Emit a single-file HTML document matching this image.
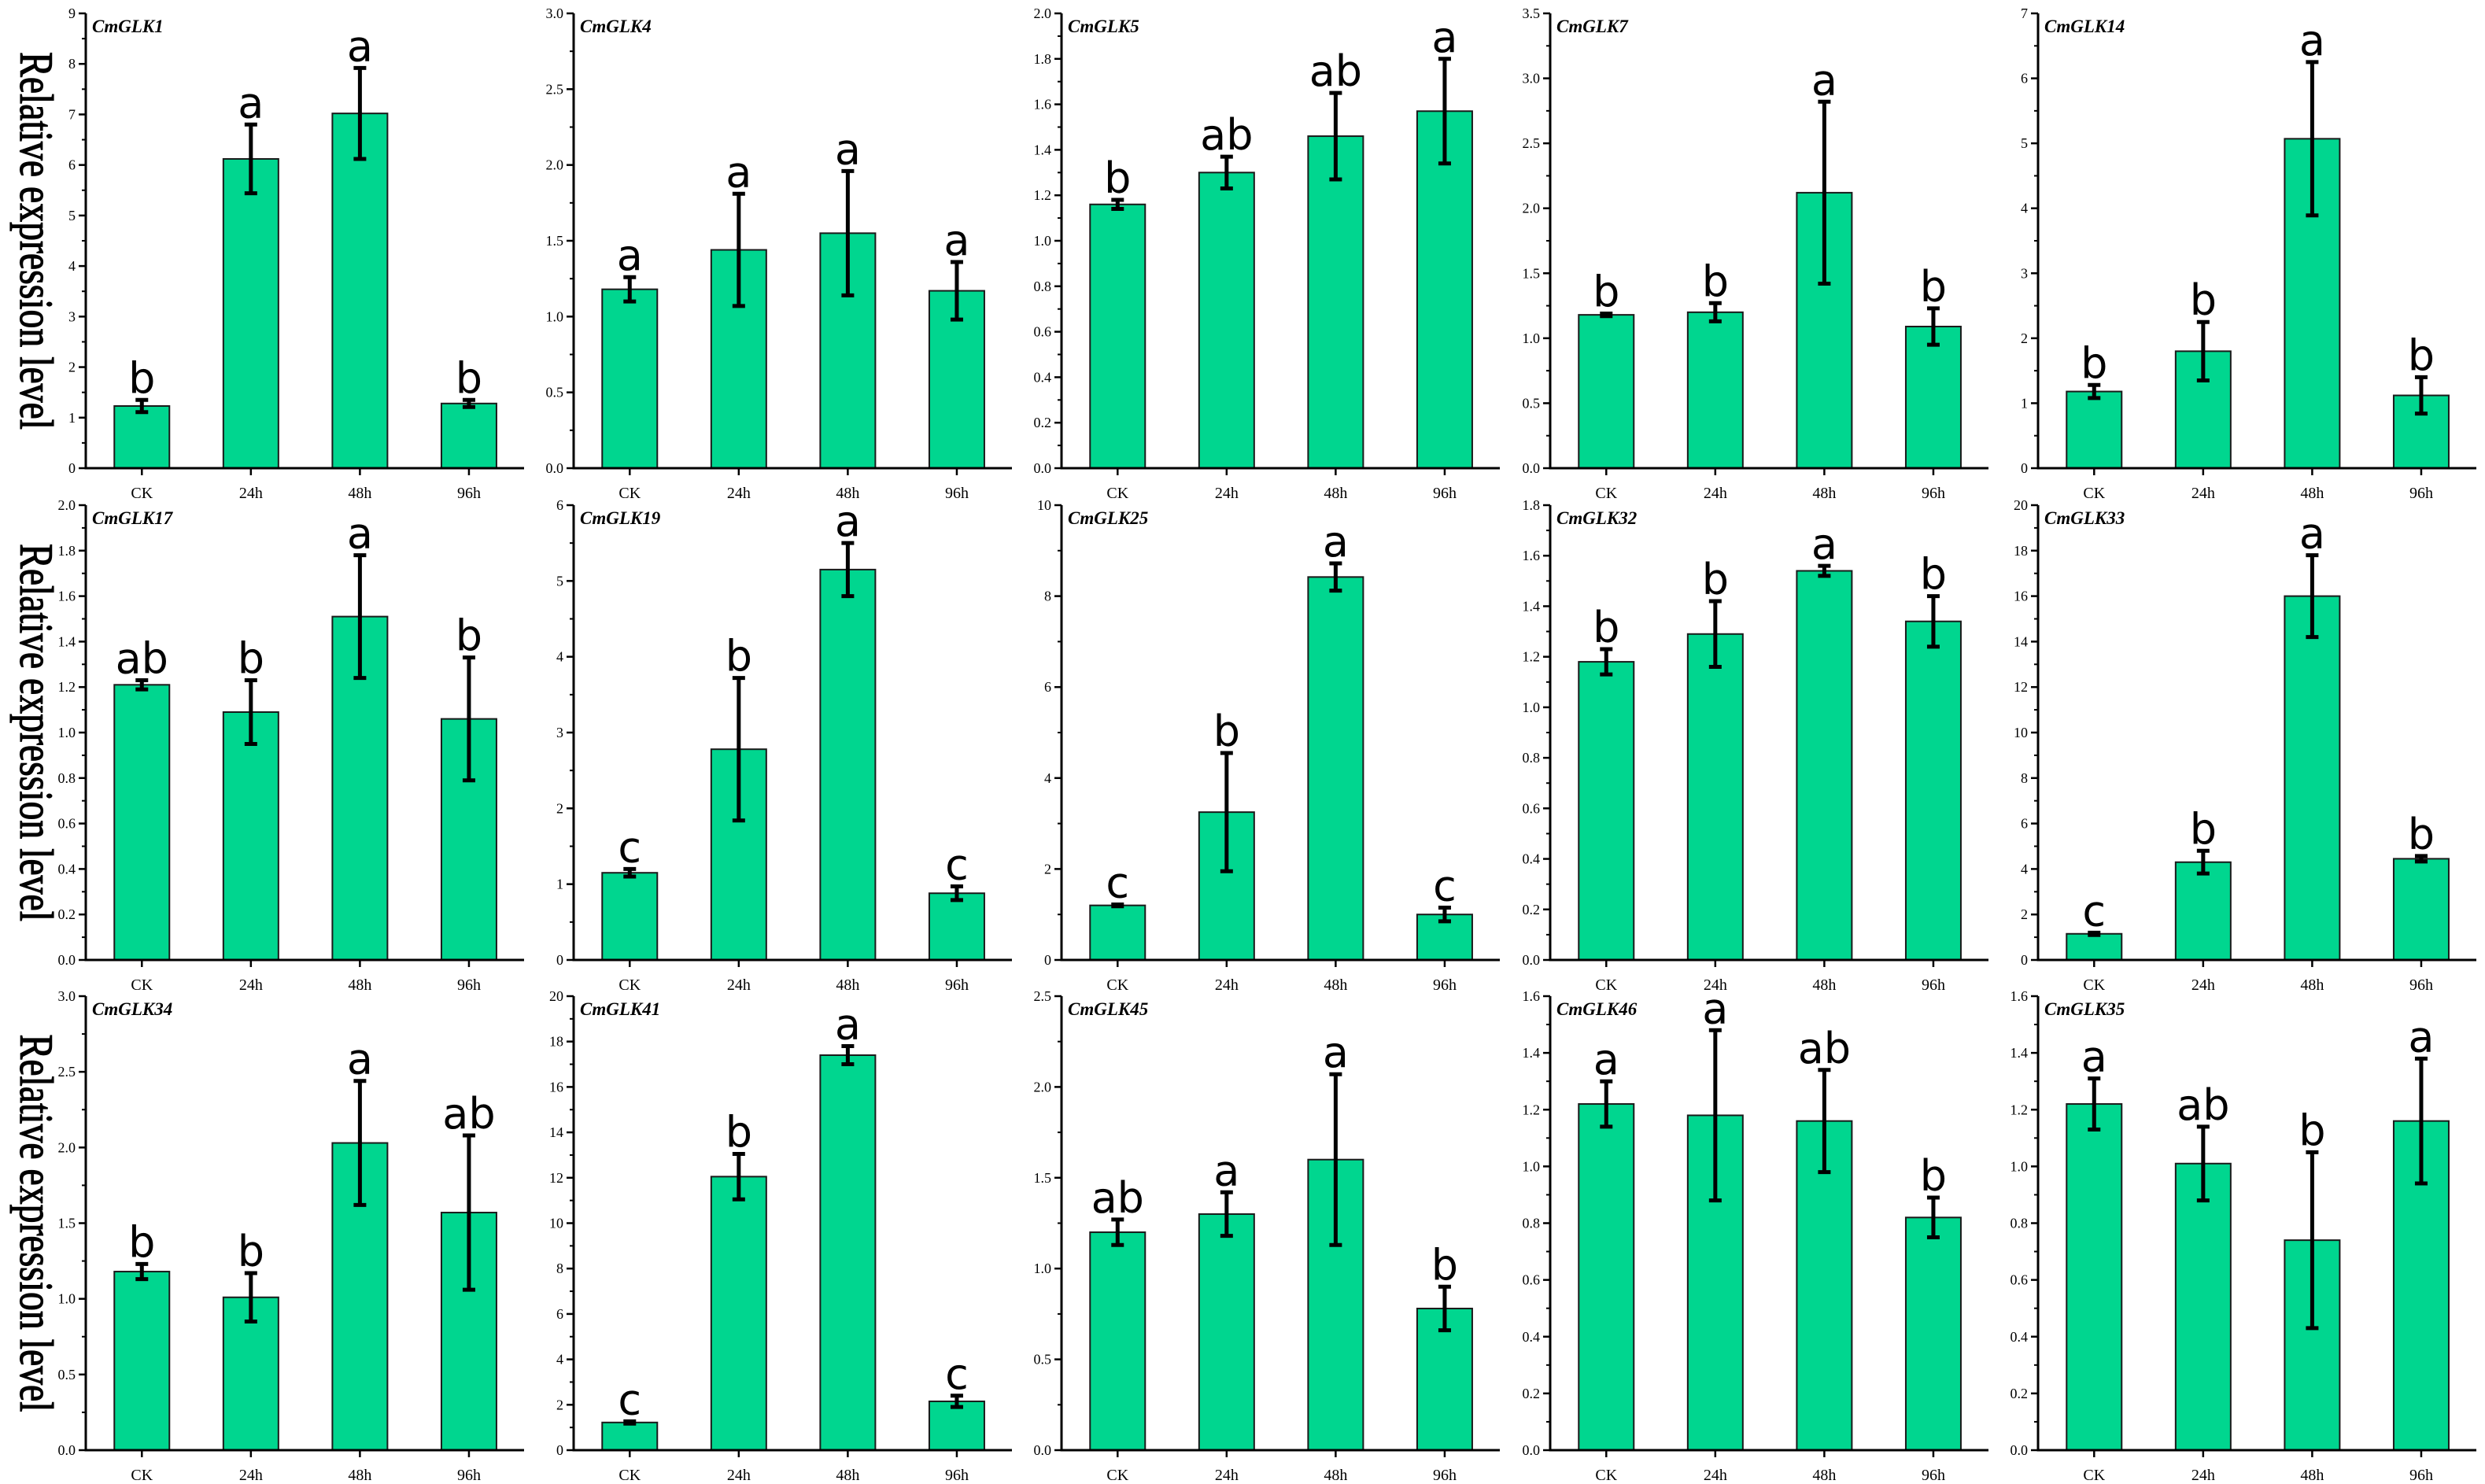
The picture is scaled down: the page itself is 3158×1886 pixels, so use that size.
<!DOCTYPE html>
<html><head><meta charset="utf-8">
<style>
html,body{margin:0;padding:0;background:#fff;}
svg{display:block;}
</style></head>
<body>
<svg id="fig" xmlns="http://www.w3.org/2000/svg" width="3158" height="1886" viewBox="0 0 3158 1886">
<rect width="3158" height="1886" fill="#fff"/>
</svg>
<script>
const categories = ["CK","24h","48h","96h"];
const genes = ["CmGLK1","CmGLK4","CmGLK5","CmGLK7","CmGLK14","CmGLK17","CmGLK19","CmGLK25","CmGLK32","CmGLK33","CmGLK34","CmGLK41","CmGLK45","CmGLK46","CmGLK35"];
const yMax = [9,3,2,3.5,7, 2,6,10,1.8,20, 3,20,2.5,1.6,1.6];
const yStep = [1,0.5,0.2,0.5,1, 0.2,1,2,0.2,2, 0.5,2,0.5,0.2,0.2];
const yDecimals = [0,1,1,1,0, 1,0,0,1,0, 1,0,1,1,1];
const means = [
 [1.23,6.12,7.02,1.28],[1.18,1.44,1.55,1.17],[1.16,1.30,1.46,1.57],[1.18,1.20,2.12,1.09],[1.18,1.80,5.07,1.12],
 [1.21,1.09,1.51,1.06],[1.15,2.78,5.15,0.88],[1.20,3.25,8.42,1.00],[1.18,1.29,1.54,1.34],[1.15,4.30,16.0,4.45],
 [1.18,1.01,2.03,1.57],[1.22,12.05,17.4,2.15],[1.20,1.30,1.60,0.78],[1.22,1.18,1.16,0.82],[1.22,1.01,0.74,1.16]
];
const errs = [
 [0.12,0.68,0.90,0.07],[0.08,0.37,0.41,0.19],[0.02,0.07,0.19,0.23],[0.01,0.07,0.70,0.14],[0.10,0.45,1.18,0.28],
 [0.02,0.14,0.27,0.27],[0.05,0.94,0.35,0.09],[0.02,1.30,0.30,0.15],[0.05,0.13,0.02,0.10],[0.05,0.50,1.80,0.12],
 [0.05,0.16,0.41,0.51],[0.05,1.00,0.40,0.25],[0.07,0.12,0.47,0.12],[0.08,0.30,0.18,0.07],[0.09,0.13,0.31,0.22]
];
const letters = [
 ["b","a","a","b"],["a","a","a","a"],["b","ab","ab","a"],["b","b","a","b"],["b","b","a","b"],
 ["ab","b","a","b"],["c","b","a","c"],["c","b","a","c"],["b","b","a","b"],["c","b","a","b"],
 ["b","b","a","ab"],["c","b","a","c"],["ab","a","a","b"],["a","a","ab","b"],["a","ab","b","a"]
];
const yTitle = "Relative expression level";

const NS = "http://www.w3.org/2000/svg";
const svg = document.getElementById("fig");
const colX = [109,729,1349,1970,2590];
const rowTop = [17,642,1266];
const rowZero = [595,1220,1843];
const AXW = 557;
function mk(tag, attrs, parent){ const e=document.createElementNS(NS,tag); for(const k in attrs) e.setAttribute(k,attrs[k]); (parent||svg).appendChild(e); return e; }

for(let r=0;r<3;r++){
  const cy=(rowTop[r]+rowZero[r])/2;
  const t=mk("text",{x:0,y:0,transform:`translate(26,${cy}) rotate(90)`,"text-anchor":"middle","font-family":"Liberation Serif, serif","font-size":60,textLength:480,lengthAdjust:"spacingAndGlyphs",fill:"#000",stroke:"#000","stroke-width":1.2});
  t.textContent=yTitle;
  
  
}

genes.forEach((g,p)=>{
  const r=Math.floor(p/5), c=p%5;
  const ax=colX[c], top=rowTop[r], zero=rowZero[r];
  const yS=v=>zero-(v/yMax[p])*(zero-top);
  const step=AXW/4.02;
  const xS=i=>ax+2+(i+0.5)*step;
  const grp=mk("g",{});
  
  
  categories.forEach((cat,i)=>{
    const v=means[p][i], x=xS(i);
    const b=mk("rect",{x:x-35,y:yS(v),width:70,height:zero-yS(v),fill:"#00D68F",stroke:"#1a1a1a","stroke-width":2},grp);
    
    
    const hi=yS(v+errs[p][i]), lo=yS(v-errs[p][i]);
    const eb=mk("path",{d:`M${x},${hi}V${lo}M${x-8},${hi}H${x+8}M${x-8},${lo}H${x+8}`,stroke:"#000","stroke-width":5,fill:"none"},grp);
    
    
    const lt=mk("text",{x:x,y:hi-9,"text-anchor":"middle","font-family":"DejaVu Sans, Liberation Sans, sans-serif","font-size":54,fill:"#000"},grp);
    lt.textContent=letters[p][i];
    
    
    mk("line",{x1:x,y1:zero,x2:x,y2:zero+9,stroke:"#000","stroke-width":2.5},grp);
    const xl=mk("text",{x:x,y:zero+38,"text-anchor":"middle","font-family":"Liberation Serif, serif","font-size":20,fill:"#000"},grp);
    xl.textContent=cat;
    
    
  });
  const n=Math.round(yMax[p]/yStep[p]);
  for(let k=0;k<=n;k++){
    const v=k*yStep[p], y=yS(v);
    mk("line",{x1:ax-9,y1:y,x2:ax,y2:y,stroke:"#000","stroke-width":2.5},grp);
    const yl=mk("text",{x:ax-13,y:y+6,"text-anchor":"end","font-family":"Liberation Serif, serif","font-size":18,fill:"#000"},grp);
    yl.textContent=v.toFixed(yDecimals[p]);
    
    
    if(k<n){ const ym=yS(v+yStep[p]/2); mk("line",{x1:ax-5,y1:ym,x2:ax,y2:ym,stroke:"#000","stroke-width":2},grp); }
  }
  const axes=mk("path",{d:`M${ax},${top}V${zero}H${ax+AXW}`,stroke:"#000","stroke-width":3,fill:"none"},grp);
  
  
  const tt=mk("text",{x:ax+8,y:top+24,"font-family":"Liberation Serif, serif","font-size":23,"font-weight":"bold","font-style":"italic",fill:"#000"},grp);
  tt.textContent=g;
  
  
});
</script>
</body></html>
